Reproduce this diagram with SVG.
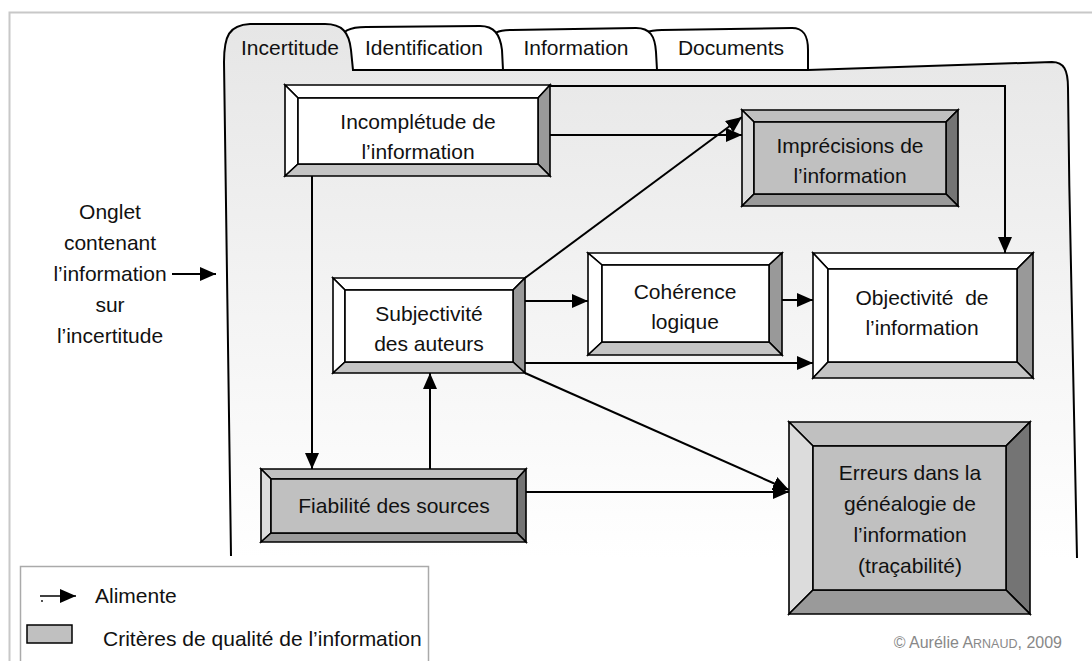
<svg xmlns="http://www.w3.org/2000/svg" width="1092" height="661" viewBox="0 0 1092 661">
<defs>
<linearGradient id="pg" x1="0" y1="0" x2="0" y2="1">
<stop offset="0" stop-color="#e6e6e6"/>
<stop offset="0.55" stop-color="#f4f4f4"/>
<stop offset="1" stop-color="#ffffff"/>
</linearGradient>
<marker id="ah" markerUnits="userSpaceOnUse" markerWidth="16" markerHeight="14" refX="16" refY="7" orient="auto">
<path d="M0,0 L16,7 L0,14 z" fill="#000"/>
</marker>
<style>
text{font-family:"Liberation Sans",Arial,sans-serif;font-size:21px;fill:#111;}
.c{text-anchor:middle;}
.b polygon,.b rect{stroke:#000;stroke-width:1.6;stroke-linejoin:miter;}
.w .t,.w .l,.w .in{fill:#fff;}
.w .r{fill:#999;}
.w .bt{fill:#c4c4c4;}
.g .t,.g .in{fill:#c0c0c0;}
.g .l{fill:#dcdcdc;}
.g .r{fill:#747474;}
.g .bt{fill:#9a9a9a;}
.cn line,.cn polyline{stroke:#000;stroke-width:2;fill:none;}
</style>
</defs>
<rect x="0" y="0" width="1092" height="661" fill="#fff"/>
<rect x="9.5" y="12.5" width="1100" height="700" fill="none" stroke="#c8c8c8" stroke-width="2"/>

<g id="tabs">
<path d="M640,70 L640,42 C641,33 648,30 662,30 L792,28 C804,28 808,36 808,50 L808,70 Z" fill="#fff" stroke="#000" stroke-width="2"/>
<path d="M490,70 L490,42 C491,33 498,30 512,30 L636,28 C650,28 655,36 656,52 L657,70 Z" fill="#fff" stroke="#000" stroke-width="2"/>
<path d="M340,70 L340,40 C341,31 350,27 366,27 L480,26 C494,26 500,34 502,50 L503,70 Z" fill="#fff" stroke="#000" stroke-width="2"/>
</g>
<g id="panel">
<path d="M231,556 C229,400 226,220 224,62 C224,36 229,25 250,24 L325,24 C342,24 349,32 351,50 L353,70 L808,70 L1052,62 C1064,62 1068,70 1068,88 C1070,250 1073,420 1077,558" fill="url(#pg)" stroke="#000" stroke-width="2"/>
<text x="290" y="55" class="c">Incertitude</text>
<text x="424" y="55" class="c">Identification</text>
<text x="576" y="55" class="c">Information</text>
<text x="731" y="55" class="c">Documents</text>
</g>

<g id="onglet">
<text class="c" x="110" y="219">Onglet</text>
<text class="c" x="110" y="250">contenant</text>
<text class="c" x="110" y="281">l’information</text>
<text class="c" x="110" y="312">sur</text>
<text class="c" x="110" y="343">l’incertitude</text>
</g>

<g id="connectors" class="cn">
<line x1="550" y1="135" x2="742" y2="135" marker-end="url(#ah)"/>
<polyline points="550,86 1005,86 1005,253" marker-end="url(#ah)"/>
<line x1="525" y1="278" x2="742" y2="117" marker-end="url(#ah)"/>
<line x1="525" y1="301" x2="588" y2="301" marker-end="url(#ah)"/>
<line x1="782" y1="300" x2="813" y2="300" marker-end="url(#ah)"/>
<line x1="525" y1="363" x2="813" y2="363" marker-end="url(#ah)"/>
<line x1="525" y1="373" x2="789" y2="490" marker-end="url(#ah)"/>
<line x1="526" y1="492" x2="789" y2="492" marker-end="url(#ah)"/>
<line x1="430" y1="469" x2="430" y2="373" marker-end="url(#ah)"/>
<line x1="312" y1="176" x2="312" y2="469" marker-end="url(#ah)"/>
<line x1="172" y1="274" x2="216" y2="274" marker-end="url(#ah)"/>
</g>

<g id="incompletude" class="b w">
<polygon class="t" points="285,85 550,85 538,98 298,98"/>
<polygon class="l" points="285,85 298,98 298,164 285,176"/>
<polygon class="r" points="550,85 550,176 538,164 538,98"/>
<polygon class="bt" points="285,176 298,164 538,164 550,176"/>
<rect class="in" x="298" y="98" width="240" height="66"/>
<text class="c" x="418" y="129">Incomplétude de</text>
<text class="c" x="418" y="159">l’information</text>
</g>

<g id="imprecisions" class="b g">
<polygon class="t" points="742,110 958,110 946,122 754,122"/>
<polygon class="l" points="742,110 754,122 754,194 742,206"/>
<polygon class="r" points="958,110 958,206 946,194 946,122"/>
<polygon class="bt" points="742,206 754,194 946,194 958,206"/>
<rect class="in" x="754" y="122" width="192" height="72"/>
<text class="c" x="850" y="153">Imprécisions de</text>
<text class="c" x="850" y="183">l’information</text>
</g>

<g id="subjectivite" class="b w">
<polygon class="t" points="333,278 525,278 513,290 345,290"/>
<polygon class="l" points="333,278 345,290 345,362 333,373"/>
<polygon class="r" points="525,278 525,373 513,362 513,290"/>
<polygon class="bt" points="333,373 345,362 513,362 525,373"/>
<rect class="in" x="345" y="290" width="168" height="72"/>
<text class="c" x="429" y="321">Subjectivité</text>
<text class="c" x="429" y="351">des auteurs</text>
</g>

<g id="coherence" class="b w">
<polygon class="t" points="588,253 782,253 769,265 602,265"/>
<polygon class="l" points="588,253 602,265 602,342 588,355"/>
<polygon class="r" points="782,253 782,355 769,342 769,265"/>
<polygon class="bt" points="588,355 602,342 769,342 782,355"/>
<rect class="in" x="602" y="265" width="167" height="77"/>
<text class="c" x="685" y="299">Cohérence</text>
<text class="c" x="685" y="329">logique</text>
</g>

<g id="objectivite" class="b w">
<polygon class="t" points="813,253 1033,253 1017,269 828,269"/>
<polygon class="l" points="813,253 828,269 828,362 813,378"/>
<polygon class="r" points="1033,253 1033,378 1017,362 1017,269"/>
<polygon class="bt" points="813,378 828,362 1017,362 1033,378"/>
<rect class="in" x="828" y="269" width="189" height="93"/>
<text class="c" x="922" y="305" xml:space="preserve">Objectivité  de</text>
<text class="c" x="922" y="335">l’information</text>
</g>

<g id="fiabilite" class="b g">
<polygon class="t" points="261,469 526,469 517,479 271,479"/>
<polygon class="l" points="261,469 271,479 271,533 261,542"/>
<polygon class="r" points="526,469 526,542 517,533 517,479"/>
<polygon class="bt" points="261,542 271,533 517,533 526,542"/>
<rect class="in" x="271" y="479" width="246" height="54"/>
<text class="c" x="394" y="513">Fiabilité des sources</text>
</g>

<g id="erreurs" class="b g">
<polygon class="t" points="789,422 1030,422 1006,446 813,446"/>
<polygon class="l" points="789,422 813,446 813,590 789,614"/>
<polygon class="r" points="1030,422 1030,614 1006,590 1006,446"/>
<polygon class="bt" points="789,614 813,590 1006,590 1030,614"/>
<rect class="in" x="813" y="446" width="193" height="144"/>
<text class="c" x="910" y="480">Erreurs dans la</text>
<text class="c" x="910" y="511">généalogie de</text>
<text class="c" x="910" y="542">l’information</text>
<text class="c" x="910" y="573">(traçabilité)</text>
</g>

<g id="legend">
<rect x="20.5" y="566.5" width="408" height="120" fill="#fff" stroke="#aaa" stroke-width="1.5"/>
<line x1="40" y1="596" x2="76" y2="596" stroke="#000" stroke-width="1.5" marker-end="url(#ah)"/>
<circle cx="42" cy="601" r="0.9" fill="#000"/>
<text x="95" y="603">Alimente</text>
<rect x="27" y="625" width="45" height="18" fill="#c0c0c0" stroke="#000" stroke-width="1.5"/>
<text x="103" y="646">Critères de qualité de l’information</text>
</g>

<text x="1062" y="648" style="text-anchor:end;font-size:16px;fill:#888">© Aurélie A<tspan style="font-size:12.5px">RNAUD</tspan>, 2009</text>
</svg>
